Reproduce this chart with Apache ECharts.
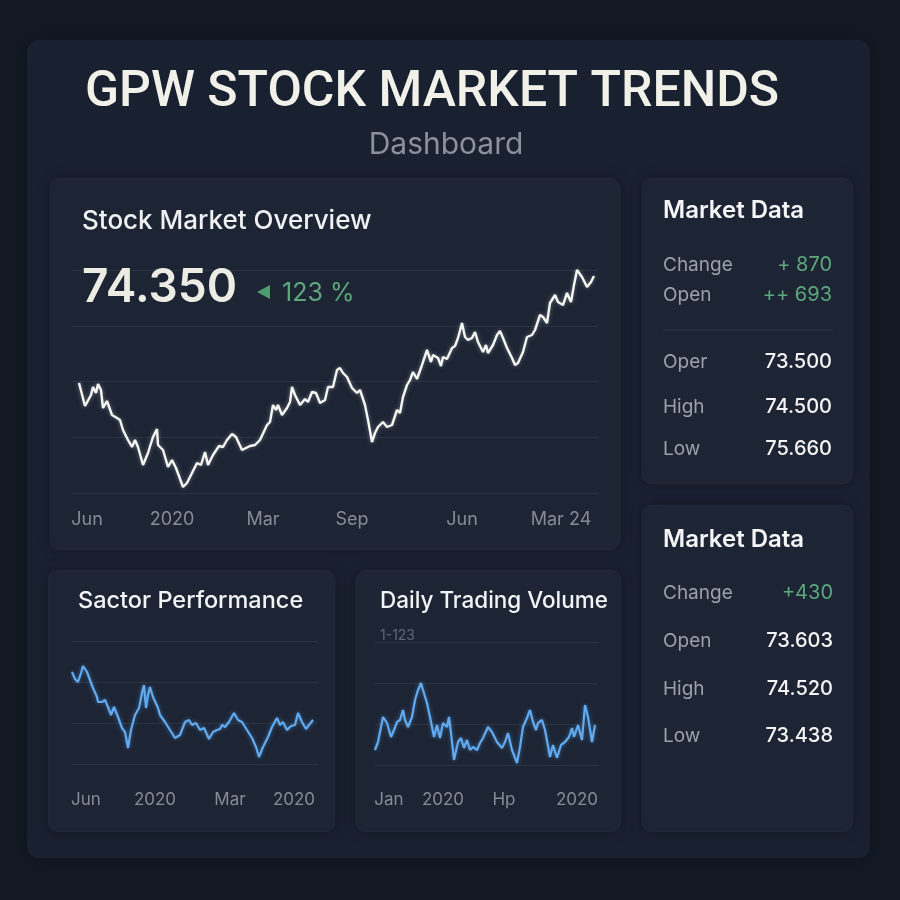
<!DOCTYPE html>
<html>
<head>
<meta charset="utf-8">
<title>GPW Stock Market Trends</title>
<script src="https://cdn.jsdelivr.net/npm/echarts@6.0.0/dist/echarts.min.js"></script>
<style>
  html, body { margin: 0; padding: 0; background: #131a25; }
  #container { width: 900px; height: 900px; }
</style>
</head>
<body>
<div id="container"></div>
<script>
// main overview line (day offset, level)
var mainDays = [0, 6, 8, 12, 14, 17, 19, 22, 24, 28, 33, 38, 41, 44, 49, 53, 56, 59, 64, 69, 74, 78, 79, 84, 89, 93, 97, 104, 108, 113, 118, 122, 126, 129, 134, 140, 144, 148, 153, 157, 163, 167, 171, 176, 181, 188, 191, 194, 197, 199, 203, 208, 211, 213, 216, 221, 226, 229, 233, 237, 241, 246, 249, 254, 258, 261, 264, 268, 273, 278, 281, 286, 289, 293, 296, 299, 304, 308, 313, 318, 321, 324, 328, 331, 334, 338, 343, 348, 352, 354, 359, 362, 364, 368, 373, 376, 379, 383, 386, 389, 393, 396, 399, 404, 407, 409, 414, 418, 421, 424, 428, 433, 436, 439, 444, 448, 453, 456, 461, 464, 468, 471, 476, 479, 484, 488, 492, 495, 498, 503, 508, 512, 515];
var mainValues = [110, 87, 86, 98, 106, 100, 109, 103, 85, 92, 78, 75, 73, 63, 53, 46, 53, 46, 28, 40, 56, 64, 48, 43, 26, 33, 25, 6, 10, 20, 30, 28, 41, 28, 38, 47, 46, 53, 59, 56, 43, 45, 47, 48, 53, 68, 71, 88, 83, 88, 78, 85, 91, 106, 98, 88, 94, 91, 101, 100, 90, 93, 106, 106, 123, 125, 120, 116, 105, 100, 103, 88, 73, 51, 60, 66, 71, 66, 68, 83, 80, 96, 108, 113, 121, 114, 128, 143, 131, 138, 135, 127, 136, 134, 145, 147, 155, 170, 156, 153, 155, 161, 151, 141, 148, 140, 148, 158, 162, 155, 145, 135, 128, 130, 141, 156, 158, 163, 178, 176, 170, 190, 198, 191, 188, 200, 191, 208, 223, 216, 206, 211, 217];
var mainTickDays = [8, 93, 184, 273, 383, 482];
var mainTickLabels = ['Jun', '2020', 'Mar', 'Sep', 'Jun', 'Mar 24'];

// sector performance
var sectorDays = [0, 3, 6, 9, 11, 15, 18, 21, 25, 26, 30, 33, 36, 39, 42, 46, 50, 53, 56, 59, 63, 67, 70, 72, 74, 76, 78, 81, 86, 88, 93, 98, 103, 108, 113, 117, 120, 124, 128, 132, 137, 141, 145, 148, 150, 153, 157, 162, 166, 170, 175, 180, 184, 187, 191, 196, 200, 205, 208, 211, 215, 219, 223, 226, 230, 234, 237, 241];
var sectorValues = [92, 85, 82, 91, 98, 92, 84, 76, 67, 62, 62, 64, 57, 49, 57, 47, 36, 32, 16, 34, 49, 56, 71, 79, 56, 69, 77, 67, 56, 49, 42, 34, 26, 29, 42, 44, 39, 41, 34, 36, 25, 32, 34, 35, 39, 37, 42, 51, 44, 42, 34, 26, 17, 7, 17, 27, 37, 46, 39, 42, 34, 38, 39, 51, 42, 35, 39, 44];
var sectorTickDays = [14, 83, 158, 222];
var sectorTickLabels = ['Jun', '2020', 'Mar', '2020'];

// daily trading volume
var volumeDays = [0, 3, 8, 12, 16, 19, 22, 25, 28, 30, 33, 37, 40, 43, 46, 48, 52, 55, 59, 62, 65, 68, 72, 74, 76, 79, 83, 86, 89, 92, 95, 98, 102, 105, 108, 113, 117, 122, 127, 130, 133, 137, 142, 145, 148, 152, 155, 158, 161, 163, 167, 170, 175, 178, 182, 186, 190, 194, 197, 199, 203, 207, 210, 213, 217, 220];
var volumeValues = [15, 23, 48, 42, 28, 35, 43, 45, 55, 45, 38, 48, 65, 75, 82, 75, 62, 48, 28, 40, 27, 42, 38, 48, 32, 5, 23, 27, 17, 25, 15, 18, 15, 22, 27, 38, 33, 23, 17, 23, 32, 15, 2, 18, 38, 47, 55, 43, 35, 42, 45, 35, 8, 20, 7, 20, 23, 28, 37, 28, 40, 25, 60, 48, 23, 40];
var volumeTickDays = [14, 68, 129, 202];
var volumeTickLabels = ['Jan', '2020', 'Hp', '2020'];

// market data panels
var md1Labels = ['Change', 'Open', 'Oper', 'High', 'Low'];
var md1Values = ['+ 870', '++ 693', '73.500', '74.500', '75.660'];
var md2Labels = ['Change', 'Open', 'High', 'Low'];
var md2Values = ['+430', '73.603', '74.520', '73.438'];

var myChart = echarts.init(document.getElementById('container'), null, { renderer: 'canvas' });

var FONT = 'Inter, "Noto Sans", sans-serif';
var panelFill = '#1d2535';
var gridColor = 'rgba(255,255,255,0.07)';
var labelGray = '#858c97';

function panel(x, y, w, h) {
	return {
		type: 'rect', z: -20,
		shape: { x: x, y: y, width: w, height: h, r: 10 },
		style: { fill: panelFill, stroke: 'rgba(255,255,255,0.035)', lineWidth: 1,
			shadowBlur: 12, shadowColor: 'rgba(0,0,0,0.35)' }
	};
}
function txt(x, y, text, size, color, weight, align) {
	return {
		type: 'text', z: 20,
		style: { x: x, y: y, text: text, fill: color, textAlign: align || 'left', textVerticalAlign: 'middle',
			font: (weight || 'normal') + ' ' + size + 'px ' + FONT }
	};
}

var graphics = [
	// outer card
	{ type: 'rect', z: -30, shape: { x: 27, y: 40, width: 843, height: 818, r: 12 },
		style: { fill: '#192030', shadowBlur: 20, shadowColor: 'rgba(0,0,0,0.3)' } },
	panel(50, 178, 570, 372),
	panel(642, 178, 211, 306),
	panel(642, 505, 211, 327),
	panel(48, 570, 287, 262),
	panel(356, 570, 265, 262),
	{ type: 'text', z: 20, style: { x: 432, y: 93, text: 'GPW STOCK MARKET TRENDS', fill: '#f1f1ea',
		textAlign: 'center', textVerticalAlign: 'middle', font: '500 50px Roboto, sans-serif' } },
	txt(446, 145, 'Dashboard', 30, '#8a919c', 'normal', 'center'),
	txt(82, 221, 'Stock Market Overview', 26, '#eef0f2', '500'),
	txt(82, 288, '74.350', 46, '#ecece4', '600'),
	{ type: 'polygon', z: 20, shape: { points: [[257, 292], [270, 285], [270, 299]] }, style: { fill: '#4f9a6e' } },
	txt(282, 293, '123 %', 25, '#5ca77b', 'normal'),
	txt(78, 601, 'Sactor Performance', 23.5, '#f2f3f5', '500'),
	txt(380, 601, 'Daily Trading Volume', 22.5, '#f2f3f5', '500'),
	txt(380, 636, '1-123', 14, '#5d6673', 'normal'),
	txt(663, 211, 'Market Data', 24, '#f4f5f6', '600'),
	txt(663, 540, 'Market Data', 24, '#f4f5f6', '600'),
	{ type: 'line', z: 20, shape: { x1: 662, y1: 330, x2: 833, y2: 330 }, style: { stroke: 'rgba(255,255,255,0.08)', lineWidth: 1 } }
];

var md1Y = [265, 295, 362, 407, 449];
md1Labels.forEach(function (l, i) {
	graphics.push(txt(663, md1Y[i], l, 19, '#9aa1aa', 'normal'));
	var green = i < 2;
	graphics.push(txt(832, md1Y[i], md1Values[i], 20, green ? '#5ca77b' : '#f3f3f3', green ? 'normal' : '500', 'right'));
});
var md2Y = [593, 641, 689, 736];
md2Labels.forEach(function (l, i) {
	graphics.push(txt(663, md2Y[i], l, 19, '#9aa1aa', 'normal'));
	var green = i === 0;
	graphics.push(txt(833, md2Y[i], md2Values[i], 20, green ? '#5ca77b' : '#f3f3f3', green ? 'normal' : '500', 'right'));
});

function pairs(xs, ys) {
	var out = [];
	for (var i = 0; i < xs.length; i++) out.push([xs[i], ys[i]]);
	return out;
}
function xAxisFor(idx, min, max, ticks, labels, margin, size) {
	return {
		type: 'value', gridIndex: idx, min: min, max: max,
		axisLine: { show: false }, axisTick: { show: false }, splitLine: { show: false },
		axisLabel: {
			customValues: ticks, margin: margin, color: labelGray, fontSize: size, fontFamily: FONT,
			formatter: function (v) { return labels[ticks.indexOf(v)]; }
		}
	};
}
function yAxisFor(idx, max, interval) {
	return {
		type: 'value', gridIndex: idx, min: 0, max: max, interval: interval,
		axisLine: { show: false }, axisTick: { show: false }, axisLabel: { show: false },
		splitLine: { lineStyle: { color: gridColor, width: 1 } }
	};
}

var option = {
	backgroundColor: '#131a25',
	animation: false,
	graphic: graphics,
	grid: [
		{ left: 72, top: 270, width: 526, height: 223 },
		{ left: 72, top: 641, width: 246, height: 123 },
		{ left: 375, top: 642, width: 222, height: 123 }
	],
	xAxis: [
		xAxisFor(0, -7, 519, mainTickDays, mainTickLabels, 18, 18),
		xAxisFor(1, 0, 246, sectorTickDays, sectorTickLabels, 27, 17),
		xAxisFor(2, 0, 222, volumeTickDays, volumeTickLabels, 26, 17)
	],
	yAxis: [
		yAxisFor(0, 223, 55.75),
		yAxisFor(1, 123, 41),
		yAxisFor(2, 123, 41)
	],
	series: [
		{
			type: 'line', xAxisIndex: 0, yAxisIndex: 0, data: pairs(mainDays, mainValues),
			showSymbol: false, clip: false,
			lineStyle: { color: '#f5f5f2', width: 2.4, shadowBlur: 4, shadowColor: 'rgba(255,255,255,0.35)' }
		},
		{
			type: 'line', xAxisIndex: 1, yAxisIndex: 1, data: pairs(sectorDays, sectorValues),
			showSymbol: false, clip: false,
			lineStyle: { color: '#62aaf0', width: 2.2, shadowBlur: 4, shadowColor: 'rgba(90,165,240,0.5)' }
		},
		{
			type: 'line', xAxisIndex: 2, yAxisIndex: 2, data: pairs(volumeDays, volumeValues),
			showSymbol: false, clip: false,
			lineStyle: { color: '#62aaf0', width: 2.2, shadowBlur: 4, shadowColor: 'rgba(90,165,240,0.5)' }
		}
	]
};
myChart.setOption(option);
</script>
</body>
</html>
